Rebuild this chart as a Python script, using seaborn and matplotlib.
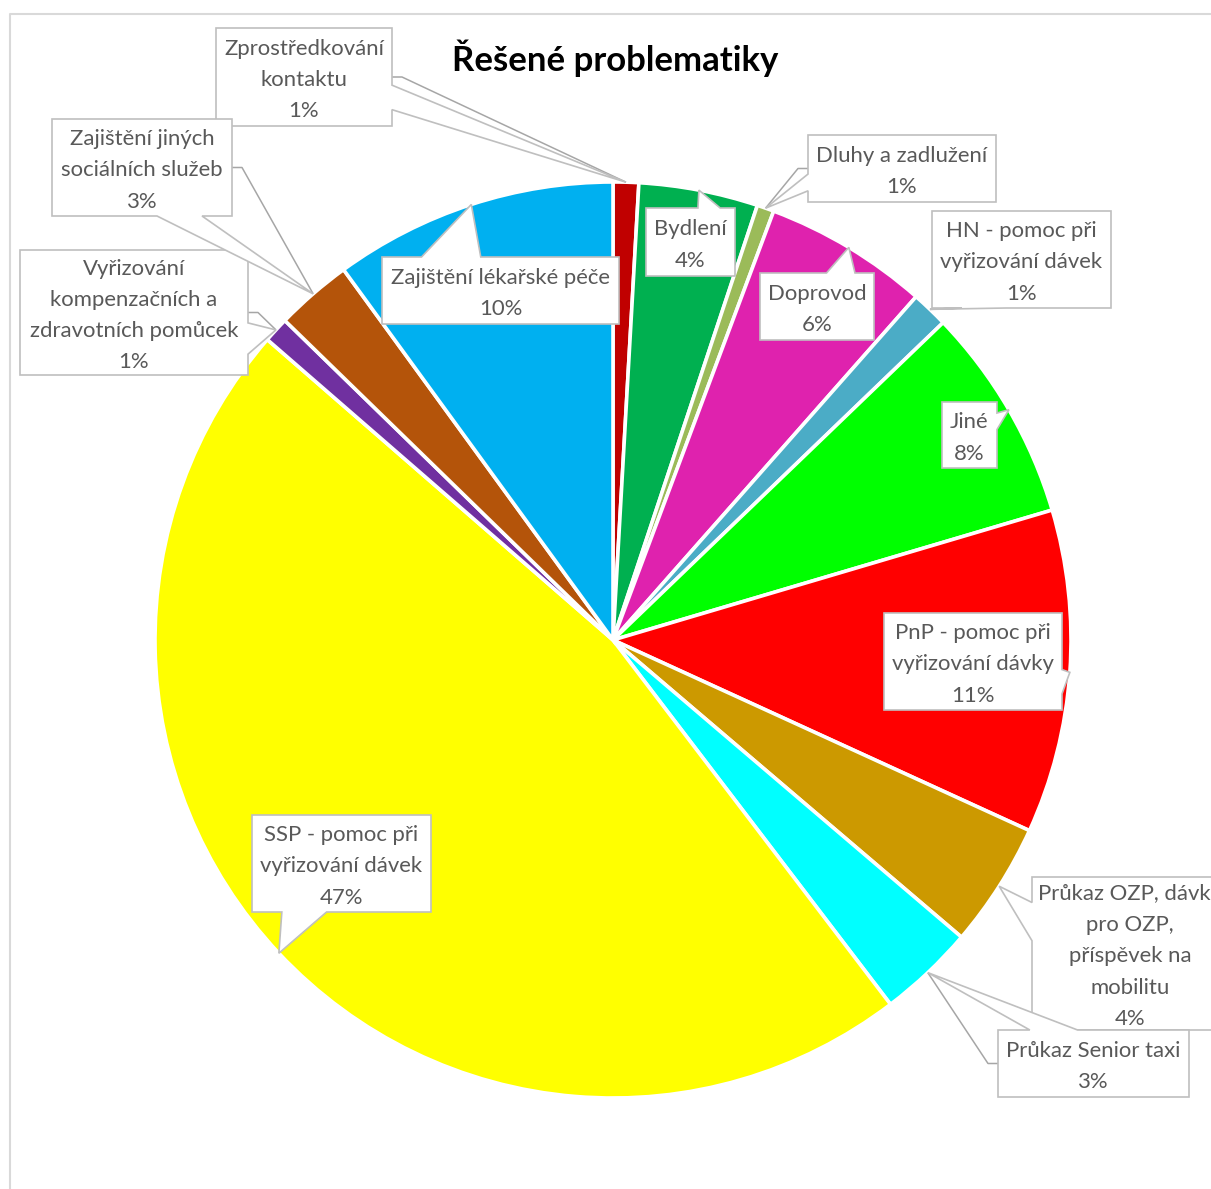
# -*- coding: utf-8 -*-
"""
Koláčový graf: Řešené problematiky (popisky ve stylu bublin jako v Excelu).
"""

import matplotlib
matplotlib.use('Agg')
import matplotlib.pyplot as plt
from matplotlib.patches import Polygon
import numpy as np
import seaborn as sns

# --- data (podíly v %, čteno z grafu) ---
kategorie = [
    'Zprostředkování\nkontaktu',
    'Bydlení',
    'Dluhy a zadlužení',
    'Doprovod',
    'HN - pomoc při\nvyřizování dávek',
    'Jiné',
    'PnP - pomoc při\nvyřizování dávky',
    'Průkaz OZP, dávky\npro OZP,\npříspěvek na\nmobilitu',
    'Průkaz Senior taxi',
    'SSP - pomoc při\nvyřizování dávek',
    'Vyřizování\nkompenzačních a\nzdravotních pomůcek',
    'Zajištění jiných\nsociálních služeb',
    'Zajištění lékařské péče',
]
podily = [0.9, 4.2, 0.6, 5.8, 1.3, 7.6, 11.4, 4.4, 3.4, 46.7, 0.9, 2.7, 10.0]
barvy = ['#C00000', '#00B050', '#9BBB59', '#DF22AE', '#4BACC6', '#00FF00',
         '#FF0000', '#CC9900', '#00FFFF', '#FFFF00', '#7030A0', '#B4540A',
         '#00B0F0']

# --- rozvržení popisků v pixelech: levá, horní, pravá, dolní hrana, leader linka ---
boxy = [
    (216, 28, 392, 126, True),
    (646, 208, 735, 276, False),
    (808, 135, 996, 202, True),
    (760, 273, 874, 340, False),
    (932, 211, 1111, 308, False),
    (942, 402, 997, 468, False),
    (884, 613, 1062, 710, False),
    (1032, 877, 1228, 1030, False),
    (998, 1030, 1189, 1097, True),
    (252, 815, 431, 912, False),
    (20, 250, 248, 375, True),
    (52, 119, 232, 216, True),
    (382, 257, 619, 324, False),
]

W, H = 1211, 1189
CX, CY, R = 613, 640, 458


def px(x, y):
    """Převod pixelů obrázku na souřadnice grafu (střed koláče = 0, poloměr = 1)."""
    return (x - CX) / R, (CY - y) / R


def bublina(ax, box, tip, text, leader):
    x0, yt = px(box[0], box[1])
    x1, yb = px(box[2], box[3])
    w, h = x1 - x0, yt - yb
    cx, cy = (x0 + x1) / 2, (yt + yb) / 2
    dx, dy = (tip[0] - cx) / w, (tip[1] - cy) / h
    lo, hi = (2 / 12, 5 / 12), (7 / 12, 10 / 12)
    tl, tr, br, bl = (x0, yt), (x1, yt), (x1, yb), (x0, yb)
    if abs(dx) > abs(dy):
        f = lo if dy > 0 else hi
        if dx > 0:
            pts = [tl, tr, (x1, yt - f[0] * h), tip, (x1, yt - f[1] * h), br, bl]
        else:
            pts = [tl, tr, br, bl, (x0, yt - f[1] * h), tip, (x0, yt - f[0] * h)]
    else:
        f = lo if dx < 0 else hi
        if dy > 0:
            pts = [tl, (x0 + f[0] * w, yt), tip, (x0 + f[1] * w, yt), tr, br, bl]
        else:
            pts = [tl, tr, br, (x0 + f[1] * w, yb), tip, (x0 + f[0] * w, yb), bl]
    if leader:
        sx = x1 if tip[0] > cx else x0
        kx = sx + (10 / R if tip[0] > cx else -10 / R)
        ax.plot([sx, kx, tip[0]], [cy, cy, tip[1]], color='#A6A6A6',
                lw=1.1, zorder=2, solid_capstyle='butt')
    ax.add_patch(Polygon(pts, closed=True, fc='white', ec='#BFBFBF',
                         lw=1.2, zorder=3, joinstyle='miter'))
    # text mírně níž, aby seděl jako v Excelu
    ax.text(cx, cy - 3 / R, text, ha='center', va='center', color='#595959',
            fontsize=15.9, linespacing=1.69, zorder=4)


sns.set_style('white')
plt.rcParams['font.family'] = ['Lato', 'DejaVu Sans']

fig = plt.figure(figsize=(W / 100, H / 100), dpi=100)
ax = fig.add_axes([0, 0, 1, 1])

wedges, _ = ax.pie(podily, colors=sns.color_palette(barvy), startangle=90,
                   counterclock=False, radius=1, center=(0, 0),
                   wedgeprops=dict(edgecolor='white', linewidth=2.6))
ax.set_xlim(-CX / R, (W - CX) / R)
ax.set_ylim(-(H - CY) / R, CY / R)
ax.axis('off')

# okraj oblasti grafu
bx0, by0 = px(10, 14)
bx1, by1 = px(W + 5, H + 5)
ax.plot([bx0, bx0, bx1], [by1, by0, by0], color='#D9D9D9', lw=1.5, zorder=0)

ax.text(*px(615, 58), 'Řešené problematiky', ha='center', va='center',
        fontsize=25, fontweight='bold', color='black')

for klin, kat, hodnota, box in zip(wedges, kategorie, podily, boxy):
    uhel = np.deg2rad((klin.theta1 + klin.theta2) / 2)
    tip = (np.cos(uhel), np.sin(uhel))
    popisek = f'{kat}\n{int(hodnota + 0.5)}%'
    bublina(ax, box[:4], tip, popisek, box[4])

fig.savefig('out.png', dpi=100)
plt.close(fig)
